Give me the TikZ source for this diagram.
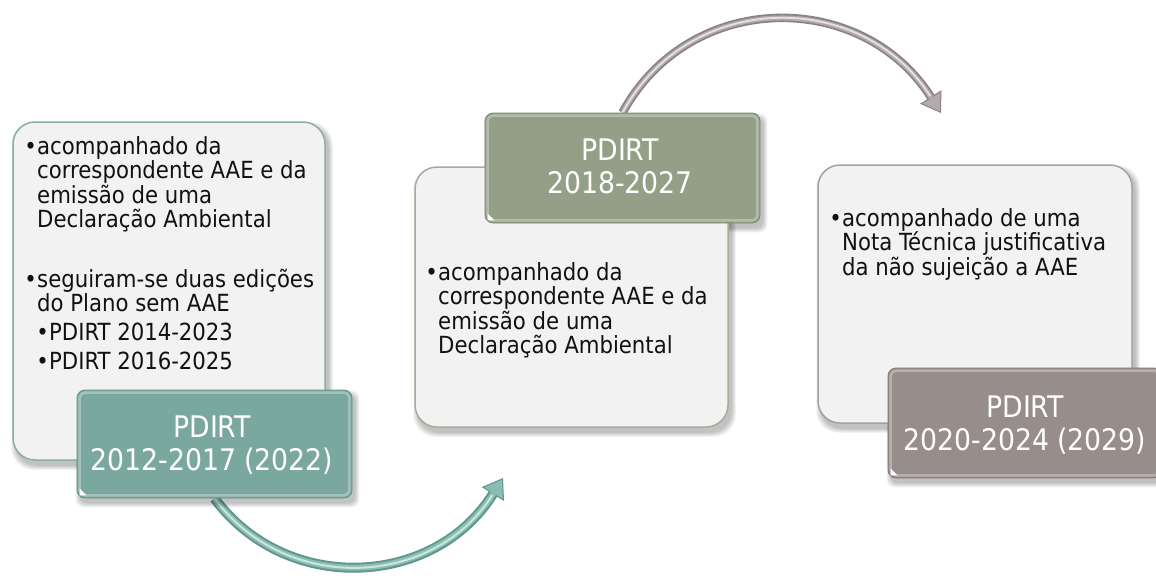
\documentclass[tikz,border=0pt]{standalone}
\usepackage{fontspec}
\setmainfont{DejaVu Sans Condensed}
\usetikzlibrary{arrows.meta}
\pgfdeclarelayer{bg}
\pgfsetlayers{bg,main}
\definecolor{boxfill}{HTML}{F2F2F2}
\definecolor{tealbox}{HTML}{7BA89E}
\definecolor{tealedge}{HTML}{86AFA6}
\definecolor{olivebox}{HTML}{93A087}
\definecolor{oliveedge}{HTML}{A3AD97}
\definecolor{mauvebox}{HTML}{978D8B}
\definecolor{mauveedge}{HTML}{A8A09F}
\definecolor{tealdark}{HTML}{5E978C}
\definecolor{tealmid}{HTML}{8CBDB3}
\definecolor{teallite}{HTML}{CBE5DF}
\definecolor{graydark}{HTML}{8A8282}
\definecolor{graymid}{HTML}{B3ABAB}
\definecolor{graylite}{HTML}{E6E2E2}
\definecolor{textcol}{HTML}{111111}
\newcommand\boxshadow[2]{%
  \foreach \s in {0,1,2,3,4}{%
    \fill[black,opacity=0.05,rounded corners=#2]
      ([shift={(3-\s,5-\s)}]#1.north west) rectangle ([shift={(3+\s,5+\s)}]#1.south east);}}
\newcommand\bevel[1]{%
  \draw[white,opacity=0.3,line width=2.5pt,rounded corners=6pt]
    ([shift={(3,3)}]#1.north west) rectangle ([shift={(-3,-3)}]#1.south east);
  \fill[white] ([shift={(3,-10)}]#1.south west) -- ([shift={(3,-3)}]#1.south west)
    -- ([shift={(10,-3)}]#1.south west) -- cycle;}
\begin{document}
\begin{tikzpicture}[x=1pt,y=-1pt,
  lightbox/.style={draw=#1,line width=1.5pt,fill=boxfill,rounded corners=22pt,inner sep=0pt},
  titlebox/.style={draw=#1!85!black,line width=0.8pt,fill=#1,rounded corners=8pt,inner sep=0pt},
  body/.style={font=\fontsize{23.6pt}{24.5pt}\selectfont,text=textcol,inner sep=0pt,anchor=base west},
  bul/.style={font=\fontsize{23.6pt}{24.5pt}\selectfont,text=textcol,inner sep=0pt,anchor=base east},
  ttl/.style={font=\fontsize{29.7pt}{33pt}\selectfont,text=white,inner sep=0pt,anchor=base},
]
\useasboundingbox (0,0) rectangle (1156,578);

% boxes
\node[lightbox=tealedge, minimum width=312pt, minimum height=338pt] (b1) at (169,291) {};
\node[lightbox=oliveedge, minimum width=313pt, minimum height=260pt] (b2) at (571.5,297) {};
\node[lightbox=mauveedge, minimum width=314pt, minimum height=258pt] (b3) at (975,294) {};

\node[titlebox=tealbox, minimum width=275pt, minimum height=108pt] (t1) at (214.5,444) {};
\node[titlebox=olivebox, minimum width=275pt, minimum height=110pt] (t2) at (622.5,168) {};
\node[titlebox=mauvebox, minimum width=274pt, minimum height=110pt] (t3) at (1025,423) {};
\bevel{t1}
\bevel{t2}
\bevel{t3}

% titles
\node[ttl] (t1a) at (212,437) {PDIRT};
\node[ttl] (t1b) at (212,470) {2012-2017 (2022)};
\node[ttl] (t2a) at (620,160) {PDIRT};
\node[ttl] (t2b) at (620,193) {2018-2027};
\node[ttl] (t3a) at (1025,417) {PDIRT};
\node[ttl] (t3b) at (1025,450) {2020-2024 (2029)};

% left box text
\node[bul] (p1) at (37,154) {•};
\foreach \yy/\txt [count=\i] in {154/acompanhado da,178.5/correspondente AAE e da,203/emissão de uma,227.5/Declaração Ambiental}
  \node[body] (la\i) at (37,\yy) {\txt};
\node[bul] (p2) at (37,287) {•};
\foreach \yy/\txt [count=\i] in {287/seguiram-se duas edições,311.5/do Plano sem AAE}
  \node[body] (lb\i) at (37,\yy) {\txt};
\node[bul] (p3) at (49,340) {•};
\node[body] (lc1) at (49,340) {PDIRT 2014-2023};
\node[bul] (p4) at (49,369.5) {•};
\node[body] (lc2) at (49,369.5) {PDIRT 2016-2025};

% middle box text
\node[bul] (p5) at (438,280) {•};
\foreach \yy/\txt [count=\i] in {280/acompanhado da,304.5/correspondente AAE e da,329/emissão de uma,353.5/Declaração Ambiental}
  \node[body] (ma\i) at (438,\yy) {\txt};

% right box text
\node[bul] (p6) at (842,226) {•};
\foreach \yy/\txt [count=\i] in {226/acompanhado de uma,250.5/Nota Técnica justificativa,275/da não sujeição a AAE}
  \node[body] (ra\i) at (842,\yy) {\txt};

\coordinate (a1e) at (503,478);
\coordinate (a2e) at (941,113);

\begin{pgfonlayer}{bg}
  \fill[white] (0,0) rectangle (1156,578);
  % bottom arrow
  \draw[tealdark,line width=10pt,-{Triangle[length=19pt,width=26pt,line width=1pt,fill=tealmid]}]
    (t1.south) .. controls (286,595) and (434,588) .. (a1e);
  \draw[tealmid,line width=6pt,shorten >=18pt]
    (t1.south) .. controls (286,595) and (434,588) .. (a1e);
  \draw[teallite,line width=2pt,shorten >=20pt]
    (t1.south) .. controls (286,595) and (434,588) .. (a1e);
  % top arrow
  \draw[graydark,line width=8.5pt,-{Triangle[length=19pt,width=25pt,line width=1pt,fill=graymid]}]
    (t2.north) .. controls (690,-11) and (862,-11) .. (a2e);
  \draw[graymid,line width=5pt,shorten >=18pt]
    (t2.north) .. controls (690,-11) and (862,-11) .. (a2e);
  \draw[graylite,line width=1.8pt,shorten >=20pt]
    (t2.north) .. controls (690,-11) and (862,-11) .. (a2e);
  % shadows
  \boxshadow{b1}{22pt}
  \boxshadow{b2}{22pt}
  \boxshadow{b3}{22pt}
  \boxshadow{t1}{8pt}
  \boxshadow{t2}{8pt}
  \boxshadow{t3}{8pt}
\end{pgfonlayer}
\end{tikzpicture}
\end{document}
